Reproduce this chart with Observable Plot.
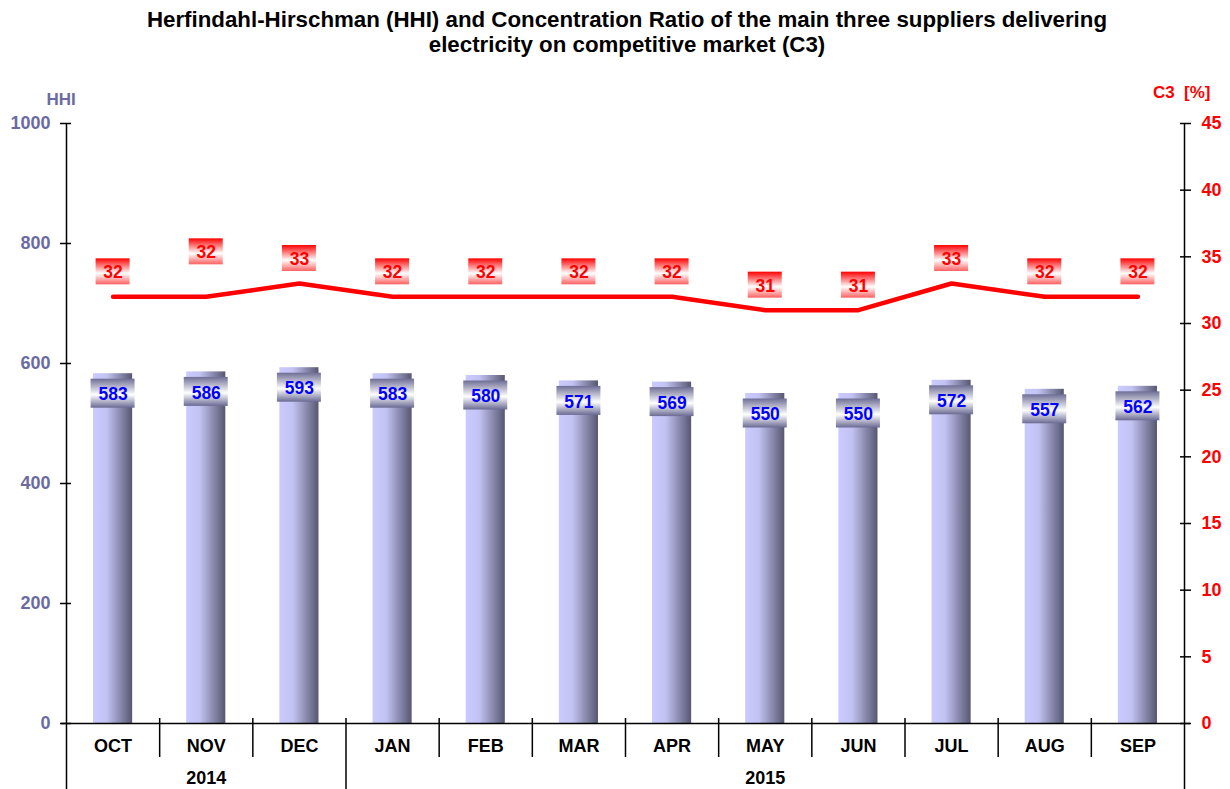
<!DOCTYPE html>
<html>
<head>
<meta charset="utf-8">
<script src="https://cdn.jsdelivr.net/npm/d3@7"></script>
<script src="https://cdn.jsdelivr.net/npm/@observablehq/plot@0.6"></script>
<style>
  html, body { margin: 0; padding: 0; background: #ffffff; }
  #wrap { width: 1230px; height: 789px; overflow: hidden; position: relative; }
  #title {
    width: 1230px; height: 62px; box-sizing: border-box;
    padding-top: 7px; padding-left: 24px;
    font: bold 22.3px "Liberation Sans", Arial, sans-serif;
    line-height: 25px; text-align: center; color: #000;
  }
  svg { display: block; }
</style>
</head>
<body>
<div id="wrap">
  <div id="title">Herfindahl-Hirschman (HHI) and Concentration Ratio of the main three suppliers delivering<br>electricity on competitive market (C3)</div>
  <div id="chart"></div>
</div>
<script>
const months = ["OCT","NOV","DEC","JAN","FEB","MAR","APR","MAY","JUN","JUL","AUG","SEP"];
const hhi = [583, 586, 593, 583, 580, 571, 569, 550, 550, 572, 557, 562];
const c3 = [32, 32, 33, 32, 32, 32, 32, 31, 31, 33, 32, 32];
const years = ["2014", "2015"];
const yearMonthCounts = [3, 9];
const hhiTicks = [0, 200, 400, 600, 800, 1000];
const c3Ticks = [0, 5, 10, 15, 20, 25, 30, 35, 40, 45];
const hhiMax = 1000, c3Max = 45;
const raisedC3Label = "NOV";

const toHHI = v => v * hhiMax / c3Max;
const rows = months.map((m, i) => ({month: m, i, hhi: hhi[i], c3: c3[i]}));

// year groups
let acc = 0;
const yearRows = years.map((y, k) => {
  const start = acc; acc += yearMonthCounts[k];
  return {year: y, start, end: acc};
});
const yearBounds = [0, ...yearRows.map(d => d.end)];
const innerYearBounds = yearBounds.slice(1, -1);
const outerBounds = [yearBounds[0], yearBounds[yearBounds.length - 1]];
const monthBounds = d3.range(1, months.length).filter(b => !yearBounds.includes(b));

const slate = "#6b6ba3";
const red = "#ff0000";

const chart = Plot.plot({
  width: 1230,
  height: 727,
  marginTop: 61,
  marginBottom: 66,
  marginLeft: 66,
  marginRight: 46,
  style: {fontFamily: "'Liberation Sans', Arial, sans-serif", fontSize: "17px", fontWeight: "bold", background: "#fff"},
  x: {domain: [0, months.length], axis: null},
  y: {domain: [0, hhiMax]},
  marks: [
    // bars
    Plot.rectY(rows, {x1: d => d.i + 0.29, x2: d => d.i + 0.71, y1: 0, y2: "hhi", fill: "url(#barGrad)"}),
    // x axis line
    Plot.ruleY([0], {stroke: "#000", strokeWidth: 1.5, insetLeft: -5, insetRight: -6}),
    // month separators
    Plot.ruleX(monthBounds, {stroke: "#000", strokeWidth: 1.5, insetTop: 595, insetBottom: -34}),
    // year separators
    Plot.ruleX(innerYearBounds, {stroke: "#000", strokeWidth: 1.5, insetTop: 595, insetBottom: -66}),
    // vertical axes lines
    Plot.ruleX(outerBounds, {stroke: "#000", strokeWidth: 1.5, insetBottom: -66}),
    // left axis
    Plot.axisY(hhiTicks, {anchor: "left", tickSize: 11, dx: 5, tickPadding: 10, stroke: "#000", fill: slate, label: null, strokeWidth: 1.5,
      fontSize: 18, tickFormat: d3.format("d")}),
    // right axis
    Plot.axisY(c3Ticks.map(toHHI), {anchor: "right", tickSize: 11, dx: -5, tickPadding: 11, stroke: "#000", fill: red, label: null, strokeWidth: 1.5,
      fontSize: 18, tickFormat: v => String(Math.round(v * c3Max / hhiMax))}),
    // C3 line
    Plot.line(rows, {x: d => d.i + 0.5, y: d => toHHI(d.c3), stroke: red, strokeWidth: 4.5, strokeLinejoin: "miter"}),
    // HHI value labels
    Plot.rect(rows, {x1: d => d.i + 0.5, x2: d => d.i + 0.5, y1: "hhi", y2: "hhi", dy: 20,
      insetLeft: -22, insetRight: -22, insetTop: -14.5, insetBottom: -14.5, fill: "url(#hhiBox)"}),
    Plot.text(rows, {x: d => d.i + 0.5, y: "hhi", text: d => String(d.hhi), dy: 21, fill: "#0000ff", fontSize: 17.5, fontWeight: "bold"}),
    // C3 value labels
    Plot.rect(rows.filter(d => d.month !== raisedC3Label), {x1: d => d.i + 0.5, x2: d => d.i + 0.5, y1: d => toHHI(d.c3), y2: d => toHHI(d.c3), dy: -25,
      insetLeft: -17, insetRight: -17, insetTop: -13, insetBottom: -13, fill: "url(#c3Box)"}),
    Plot.rect(rows.filter(d => d.month === raisedC3Label), {x1: d => d.i + 0.5, x2: d => d.i + 0.5, y1: d => toHHI(d.c3), y2: d => toHHI(d.c3), dy: -45,
      insetLeft: -17, insetRight: -17, insetTop: -13, insetBottom: -13, fill: "url(#c3Box)"}),
    Plot.text(rows.filter(d => d.month !== raisedC3Label), {x: d => d.i + 0.5, y: d => toHHI(d.c3), text: d => String(d.c3), dy: -24, fill: red, fontSize: 17.5, fontWeight: "bold"}),
    Plot.text(rows.filter(d => d.month === raisedC3Label), {x: d => d.i + 0.5, y: d => toHHI(d.c3), text: d => String(d.c3), dy: -44, fill: red, fontSize: 17.5, fontWeight: "bold"}),
    // month labels
    Plot.text(rows, {x: d => d.i + 0.5, y: 0, text: "month", dy: 23, fill: "#000", fontSize: 18, fontWeight: "bold"}),
    // year labels
    Plot.text(yearRows, {x: d => (d.start + d.end) / 2, y: 0, text: "year", dy: 55, fill: "#000", fontSize: 18, fontWeight: "bold"}),
    // axis titles
    Plot.text(["HHI"], {frameAnchor: "top-left", dx: -20, dy: -31, fill: slate, fontSize: 17, fontWeight: "bold"}),
    Plot.text(["C3  [%]"], {frameAnchor: "top-right", dx: 26, dy: -38, fill: red, fontSize: 17, fontWeight: "bold"})
  ]
});

// gradients
const defs = d3.select(chart).insert("defs", ":first-child");
function grad(id, horizontal, stops) {
  const g = defs.append("linearGradient").attr("id", id)
    .attr("x1", 0).attr("y1", 0).attr("x2", horizontal ? 1 : 0).attr("y2", horizontal ? 0 : 1);
  stops.forEach(([o, c]) => g.append("stop").attr("offset", o).attr("stop-color", c));
}
grad("barGrad", true, [[0, "#cacaff"], [0.35, "#c2c2f2"], [1, "#575772"]]);
grad("hhiBox", false, [[0, "#6e6e96"], [0.55, "#ffffff"], [1, "#6a6a94"]]);
grad("c3Box", false, [[0, "#ff0000"], [0.58, "#ffffff"], [1, "#ff6060"]]);

d3.select(chart).selectAll("text").attr("xml:space", "preserve");
document.getElementById("chart").appendChild(chart);
</script>
</body>
</html>
